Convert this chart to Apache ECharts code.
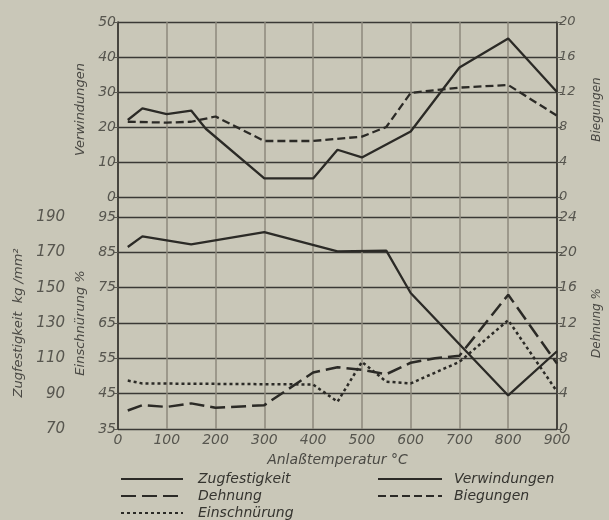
<!DOCTYPE html>
<html>
<head>
<meta charset="utf-8">
<script src="https://cdn.jsdelivr.net/npm/echarts@6/dist/echarts.min.js"></script>
<style>
  html, body { margin: 0; padding: 0; background: #c9c7b8; }
  #chart { width: 609px; height: 520px; }
</style>
</head>
<body>
<div id="chart"></div>
<script>
// Anlaßtemperatur (°C) and measured values per curve
const verwTemp = [20, 50, 100, 150, 180, 300, 400, 450, 500, 600, 700, 800, 900];
const verwindungen = [22, 25.3, 23.7, 24.7, 19.5, 5.3, 5.3, 13.5, 11.3, 18.7, 37, 45.3, 30];

const biegTemp = [20, 100, 150, 200, 300, 400, 500, 550, 600, 700, 800, 900];
const biegungen = [8.6, 8.5, 8.6, 9.2, 6.4, 6.4, 6.9, 8.0, 11.9, 12.5, 12.8, 9.3];

const zugTemp = [20, 50, 150, 300, 450, 550, 600, 700, 800, 900];
const zugfestigkeit = [173, 179, 174.5, 181.5, 170.5, 171, 147, 118, 89, 114];

const dehnTemp = [20, 50, 100, 150, 200, 300, 400, 450, 500, 550, 600, 650, 700, 800, 900];
const dehnung = [2.1, 2.7, 2.5, 2.9, 2.4, 2.7, 6.4, 7.0, 6.7, 6.2, 7.5, 8.0, 8.3, 15.2, 7.4];

const einTemp = [20, 50, 400, 450, 500, 550, 600, 700, 800, 900];
const einschnuerung = [48.7, 47.9, 47.6, 42.7, 54, 48.4, 47.9, 54, 65.8, 45.6];

const xTicks = { min: 0, max: 900, interval: 100 };

const zip = (xs, ys) => xs.map((x, i) => [x, ys[i]]);

const INK = '#2b2a26';
const GRID_H = '#3a3935';
const GRID_V = '#8c897c';
const LABEL = '#57564f';
const FONT = 'DejaVu Sans';

const labelStyle = (size) => ({
  color: LABEL, fontStyle: 'italic', fontFamily: FONT, fontSize: size
});
const nameStyle = (size) => ({
  color: '#4a4944', fontStyle: 'italic', fontFamily: FONT, fontSize: size
});

const chart = echarts.init(document.getElementById('chart'), null, { renderer: 'canvas' });

const baseX = (gridIndex, showLabels) => ({
  type: 'value', gridIndex,
  min: xTicks.min, max: xTicks.max, interval: xTicks.interval,
  axisLine: { show: false },
  axisTick: { show: false },
  axisLabel: showLabels ? Object.assign({ margin: 4 }, labelStyle(14)) : { show: false },
  splitLine: { show: true, lineStyle: { color: GRID_V, width: 1.5 } }
});

const legendText = {
  color: '#35342f', fontStyle: 'italic', fontFamily: FONT, fontSize: 14, lineHeight: 14
};

chart.setOption({
  animation: false,
  backgroundColor: '#c9c7b8',
  grid: [
    { left: 118, right: 52, top: 22, height: 175, outerBoundsMode: 'none' },
    { left: 118, right: 52, top: 217, height: 212, outerBoundsMode: 'none' },
    { left: 118, right: 52, top: 197, height: 20, outerBoundsMode: 'none' }
  ],
  xAxis: [
    baseX(0, false),
    Object.assign(baseX(1, true), {
      name: 'Anlaßtemperatur °C', nameLocation: 'middle', nameGap: 24,
      nameTextStyle: nameStyle(14)
    }),
    baseX(2, false)
  ],
  yAxis: [
    { // Verwindungen
      type: 'value', gridIndex: 0, position: 'left', min: 0, max: 50, interval: 10,
      name: 'Verwindungen', nameLocation: 'middle', nameGap: 29, nameRotate: 90,
      nameTextStyle: nameStyle(13),
      axisLine: { show: true, lineStyle: { color: INK, width: 1.5 } },
      axisTick: { show: true, length: 5, lineStyle: { color: '#5a5952' } },
      axisLabel: Object.assign({ margin: 2 }, labelStyle(14)),
      splitLine: { show: true, lineStyle: { color: GRID_H, width: 1.3 } }
    },
    { // Biegungen
      type: 'value', gridIndex: 0, position: 'right', min: 0, max: 20, interval: 4,
      name: 'Biegungen', nameLocation: 'middle', nameGap: 34, nameRotate: 90,
      nameTextStyle: nameStyle(12),
      axisLine: { show: true, lineStyle: { color: INK, width: 1.5 } },
      axisTick: { show: true, length: 5, lineStyle: { color: '#5a5952' } },
      axisLabel: Object.assign({ margin: 2 }, labelStyle(13)),
      splitLine: { show: false }
    },
    { // Zugfestigkeit
      type: 'value', gridIndex: 1, position: 'left', offset: 45,
      min: 70, max: 190, interval: 20,
      name: 'Zugfestigkeit  kg /mm²', nameLocation: 'middle', nameGap: 46, nameRotate: 90,
      nameTextStyle: nameStyle(13),
      axisLine: { show: false },
      axisTick: { show: false },
      axisLabel: Object.assign({ margin: 8 }, labelStyle(15)),
      splitLine: { show: false }
    },
    { // Einschnürung
      type: 'value', gridIndex: 1, position: 'left', min: 35, max: 95, interval: 10,
      name: 'Einschnürung %', nameLocation: 'middle', nameGap: 29, nameRotate: 90,
      nameTextStyle: nameStyle(13),
      axisLine: { show: true, lineStyle: { color: INK, width: 1.5 } },
      axisTick: { show: true, length: 4, lineStyle: { color: '#5a5952' } },
      axisLabel: Object.assign({ margin: 2 }, labelStyle(14)),
      splitLine: { show: true, lineStyle: { color: GRID_H, width: 1.3 } }
    },
    { // Dehnung
      type: 'value', gridIndex: 1, position: 'right', min: 0, max: 24, interval: 4,
      name: 'Dehnung %', nameLocation: 'middle', nameGap: 34, nameRotate: 90,
      nameTextStyle: nameStyle(12),
      axisLine: { show: true, lineStyle: { color: INK, width: 1.5 } },
      axisTick: { show: true, length: 5, lineStyle: { color: '#5a5952' } },
      axisLabel: Object.assign({ margin: 2 }, labelStyle(14)),
      splitLine: { show: false }
    },
    { // connector strip between the two panels
      type: 'value', gridIndex: 2, position: 'left', min: 0, max: 1,
      axisLine: { show: true, lineStyle: { color: INK, width: 1.5 } },
      axisTick: { show: false }, axisLabel: { show: false }, splitLine: { show: false }
    },
    {
      type: 'value', gridIndex: 2, position: 'right', min: 0, max: 1,
      axisLine: { show: true, lineStyle: { color: INK, width: 1.5 } },
      axisTick: { show: false }, axisLabel: { show: false }, splitLine: { show: false }
    }
  ],
  legend: [
    {
      left: 120, top: 472, height: 60, padding: 0, orient: 'vertical',
      itemWidth: 62, itemHeight: 12, itemGap: 3,
      itemStyle: { opacity: 0, color: 'transparent', borderWidth: 0 },
      data: ['Zugfestigkeit', 'Dehnung', 'Einschnürung'],
      textStyle: Object.assign({ padding: [0, 0, 0, 10] }, legendText)
    },
    {
      left: 377, top: 472, height: 60, padding: 0, orient: 'vertical',
      itemWidth: 64, itemHeight: 12, itemGap: 3,
      itemStyle: { opacity: 0, color: 'transparent', borderWidth: 0 },
      data: ['Verwindungen', 'Biegungen'],
      textStyle: Object.assign({ padding: [0, 0, 0, 7] }, legendText)
    }
  ],
  series: [
    {
      name: 'Verwindungen', type: 'line', xAxisIndex: 0, yAxisIndex: 0,
      data: zip(verwTemp, verwindungen), symbol: 'none',
      lineStyle: { color: INK, width: 2.3, type: 'solid' }, itemStyle: { color: INK }
    },
    {
      name: 'Biegungen', type: 'line', xAxisIndex: 0, yAxisIndex: 1,
      data: zip(biegTemp, biegungen), symbol: 'none',
      lineStyle: { color: INK, width: 2.3, type: [8, 4] }, itemStyle: { color: INK }
    },
    {
      name: 'Zugfestigkeit', type: 'line', xAxisIndex: 1, yAxisIndex: 2,
      data: zip(zugTemp, zugfestigkeit), symbol: 'none',
      lineStyle: { color: INK, width: 2.3, type: 'solid' }, itemStyle: { color: INK }
    },
    {
      name: 'Dehnung', type: 'line', xAxisIndex: 1, yAxisIndex: 4,
      data: zip(dehnTemp, dehnung), symbol: 'none',
      lineStyle: { color: INK, width: 2.5, type: [15, 6] }, itemStyle: { color: INK }
    },
    {
      name: 'Einschnürung', type: 'line', xAxisIndex: 1, yAxisIndex: 3,
      data: zip(einTemp, einschnuerung), symbol: 'none',
      lineStyle: { color: INK, width: 2.5, type: [3, 3] }, itemStyle: { color: INK }
    }
  ]
});
</script>
</body>
</html>
